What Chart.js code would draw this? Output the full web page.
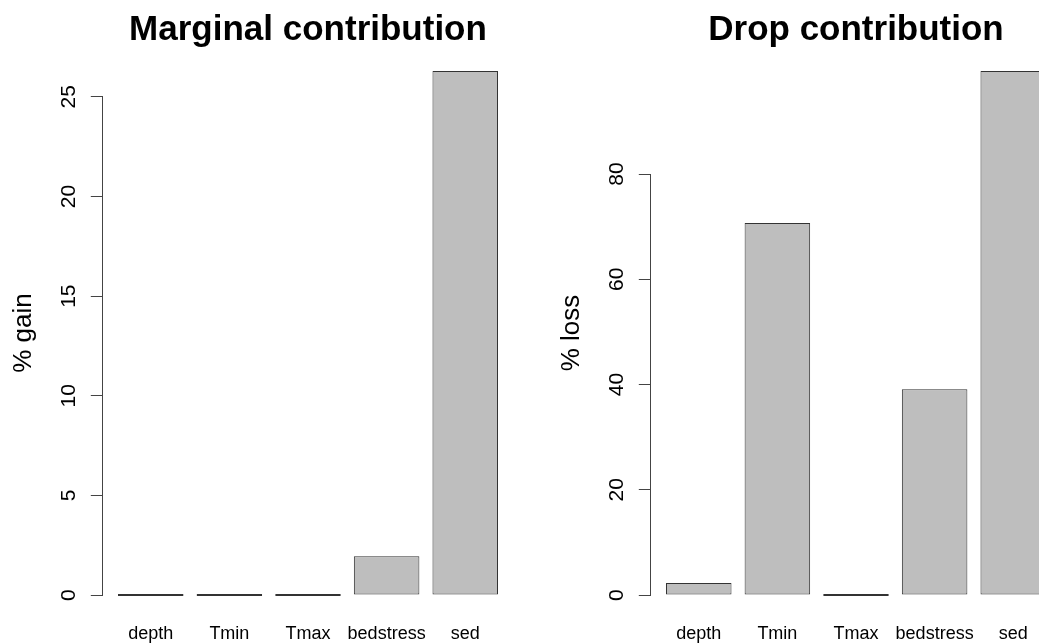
<!DOCTYPE html>
<html><head><meta charset="utf-8">
<script src="https://cdn.jsdelivr.net/npm/chart.js@4/dist/chart.umd.min.js"></script>
<style>
html,body{margin:0;padding:0;background:#fff;overflow:hidden;width:1039px;height:643px;}
#wrap{position:relative;width:1039px;height:643px;overflow:hidden;background:#fff;}
canvas{position:absolute;top:0;}
</style></head><body>
<div id="wrap">
<canvas id="c1" width="548" height="643" style="left:0px"></canvas>
<canvas id="c2" width="548" height="643" style="left:548px"></canvas>
</div>
<script>
// ---- data ----
const categories = ['depth', 'Tmin', 'Tmax', 'bedstress', 'sed'];
const gainValues = [0, 0, 0, 1.95, 26.3];
const lossValues = [2.3, 70.7, 0, 39.1, 99.6];
const gainTicks = [0, 5, 10, 15, 20, 25];
const lossTicks = [0, 20, 40, 60, 80];
const panelTitles = ['Marginal contribution', 'Drop contribution'];
const yAxisTitles = ['% gain', '% loss'];

// ---- layout / style ----
const FONT = "'Liberation Sans', Arial, Helvetica, sans-serif";
const BAR_SPACE = 0.2, BAR_WIDTH = 1;   // barplot geometry in axis units
const Y_AXIS_W = 102.8, RIGHT_PAD = 34.8, X_AXIS_H = 27;

Chart.defaults.font.family = FONT;
Chart.defaults.color = '#000';

const axisLinePlugin = {
  id: 'axisLine',
  afterDraw(chart) {
    const s = chart.scales.y;
    const ctx = chart.ctx;
    const t = s.ticks;
    const al = p => Math.round(p - 0.5) + 0.5;
    const x = al(s.right);
    const y1 = al(s.getPixelForValue(t[0].value));
    const y2 = al(s.getPixelForValue(t[t.length - 1].value));
    ctx.save();
    ctx.strokeStyle = '#444';
    ctx.lineWidth = 1;
    ctx.beginPath();
    ctx.moveTo(x, Math.max(y1, y2) + 0.5);
    ctx.lineTo(x, Math.min(y1, y2) - 0.5);
    ctx.stroke();
    ctx.restore();
  }
};

function makeChart(canvasId, values, ticks, title, ytitle) {
  const centers = categories.map((_, i) => BAR_SPACE + i * (BAR_WIDTH + BAR_SPACE) + BAR_WIDTH / 2);
  const xLo = BAR_SPACE, xHi = categories.length * (BAR_WIDTH + BAR_SPACE);
  const xExt = 0.04 * (xHi - xLo);
  const vmax = Math.max(...values);
  return new Chart(document.getElementById(canvasId), {
    type: 'bar',
    data: {
      datasets: [{
        data: values.map((v, i) => ({ x: centers[i], y: v })),
        backgroundColor: '#BEBEBE',
        borderColor: '#333',
        borderWidth: 1,
        borderSkipped: false,
        minBarLength: 2,
        categoryPercentage: 1,
        barPercentage: BAR_WIDTH / (BAR_WIDTH + BAR_SPACE)
      }]
    },
    plugins: [axisLinePlugin],
    options: {
      responsive: false,
      animation: false,
      devicePixelRatio: 1,
      layout: { padding: { left: 0, right: RIGHT_PAD, top: 0, bottom: 0 } },
      plugins: {
        legend: { display: false },
        tooltip: { enabled: false },
        title: {
          display: true, text: title, fullSize: false,
          color: '#000',
          font: { family: FONT, size: 35, weight: 'bold', lineHeight: 1.0 },
          padding: { top: 12.9, bottom: 2.1 }
        }
      },
      scales: {
        x: {
          type: 'linear',
          offset: false,
          min: xLo - xExt, max: xHi + xExt,
          afterBuildTicks: s => { s.ticks = centers.map(c => ({ value: c })); },
          afterFit: s => { s.height = X_AXIS_H; },
          grid: { display: false, offset: false },
          border: { display: false },
          ticks: {
            autoSkip: false, maxRotation: 0, minRotation: 0, padding: -1,
            color: '#000', font: { family: FONT, size: 18 },
            callback: (v, i) => categories[i]
          }
        },
        y: {
          type: 'linear',
          min: -0.04 * vmax, max: 1.04 * vmax,
          afterBuildTicks: s => { s.ticks = ticks.map(v => ({ value: v })); },
          afterFit: s => { s.width = Y_AXIS_W; },
          border: { display: false },
          grid: { drawOnChartArea: false, drawTicks: true, tickLength: 12, color: '#444', lineWidth: 1 },
          ticks: {
            autoSkip: false, minRotation: 90, maxRotation: 90, crossAlign: 'center', padding: 10,
            color: '#000', font: { family: FONT, size: 21 }
          },
          title: {
            display: true, text: ytitle, color: '#000',
            font: { family: FONT, size: 26 },
            padding: { top: 8, bottom: 0 }
          }
        }
      }
    }
  });
}

makeChart('c1', gainValues, gainTicks, panelTitles[0], yAxisTitles[0]);
makeChart('c2', lossValues, lossTicks, panelTitles[1], yAxisTitles[1]);
</script>
</body></html>
